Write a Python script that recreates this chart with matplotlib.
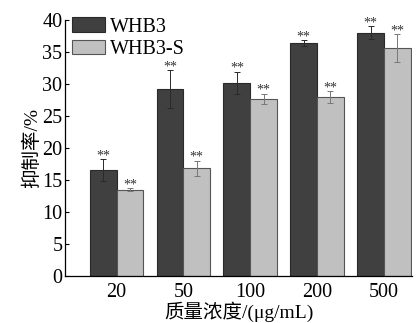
import matplotlib
matplotlib.use("Agg")

import numpy as np
import matplotlib.pyplot as plt

# data
conc = ["20", "50", "100", "200", "500"]
whb3 = [16.5, 29.2, 30.2, 36.4, 38.0]
whb3_err = [1.7, 3.0, 1.7, 0.5, 1.0]
whb3s = [13.5, 16.8, 27.7, 28.0, 35.6]
whb3s_err = [0.2, 1.2, 0.8, 0.9, 2.2]
marks = ["**"] * 5

plt.rcParams["font.family"] = ["Liberation Serif", "Noto Sans CJK SC"]
plt.rcParams["font.size"] = 14.5

fig, ax = plt.subplots(figsize=(4.17, 3.23), dpi=100)
fig.subplots_adjust(left=0.156, right=0.988, top=0.938, bottom=0.146)

x = np.arange(len(conc))
w = 0.4
ax.bar(x - w / 2, whb3, w, color="#404040", edgecolor="#2a2a2a", lw=0.8,
       yerr=whb3_err, capsize=2.5,
       error_kw=dict(ecolor="#2a2a2a", elinewidth=0.7, capthick=0.7),
       label="WHB3")
ax.bar(x + w / 2, whb3s, w, color="#c0c0c0", edgecolor="#555555", lw=0.8,
       yerr=whb3s_err, capsize=2.5,
       error_kw=dict(ecolor="#777777", elinewidth=0.7, capthick=0.7),
       label="WHB3-S")

# significance marks sit just above each error bar
for i in range(len(conc)):
    ax.text(x[i] - w / 2, whb3[i] + whb3_err[i] - 0.5, marks[i],
            ha="center", va="bottom", fontsize=10, color="#333333")
    ax.text(x[i] + w / 2, whb3s[i] + whb3s_err[i] - 0.5, marks[i],
            ha="center", va="bottom", fontsize=10, color="#333333")

ax.set_xlim(-0.77, 4.42)
ax.set_ylim(0, 40)
ax.set_yticks(range(0, 41, 5))
ax.set_xticks(x)
ax.set_xticklabels(conc)
ax.tick_params(axis="y", direction="in", length=3, width=0.8, pad=2)
ax.tick_params(axis="x", length=0, pad=5)
for s in ["top", "right"]:
    ax.spines[s].set_visible(False)
for s in ["left", "bottom"]:
    ax.spines[s].set_linewidth(0.9)

ax.set_ylabel("抑制率/%", fontsize=14, labelpad=1)
ax.set_xlabel("质量浓度/(μg/mL)", fontsize=14, labelpad=0)
ax.legend(loc="upper left", frameon=False, fontsize=14.5, handlelength=1.65,
          handleheight=0.7, handletextpad=0.25, labelspacing=0.15,
          borderpad=0.0, borderaxespad=0.0, bbox_to_anchor=(0.02, 1.01))

plt.savefig("out.png", dpi=100)
plt.close()
